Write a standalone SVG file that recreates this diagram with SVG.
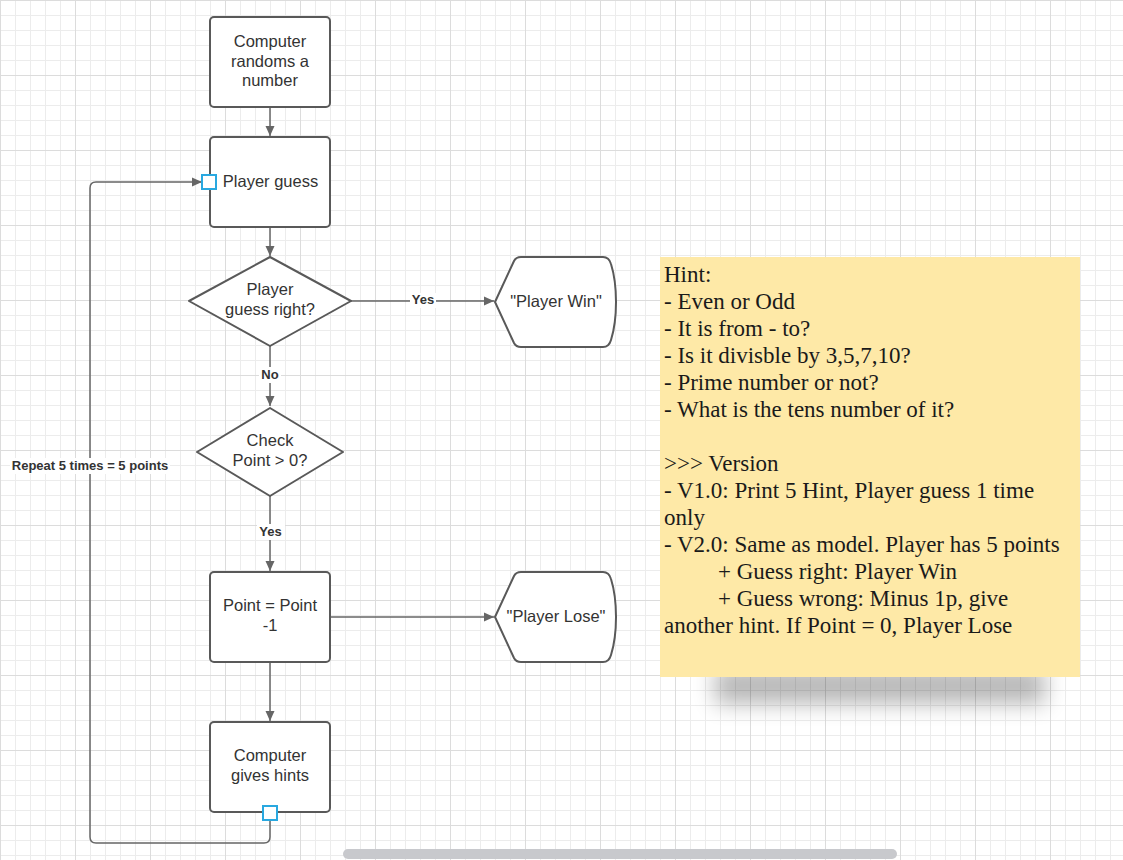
<svg xmlns="http://www.w3.org/2000/svg" width="1123" height="860" viewBox="0 0 1123 860">
<defs>
<pattern id="grid" x="0" y="0" width="75" height="75" patternUnits="userSpaceOnUse">
<path d="M15.5,0V75M30.5,0V75M45.5,0V75M60.5,0V75M0,15.5H75M0,30.5H75M0,45.5H75M0,60.5H75" stroke="#ececec" stroke-width="1" fill="none"/>
<path d="M0.5,0V75M0,0.5H75" stroke="#dcdcdc" stroke-width="1" fill="none"/>
</pattern>
<marker id="arr" viewBox="0 0 10 10" refX="10" refY="5" markerWidth="10" markerHeight="10" markerUnits="userSpaceOnUse" orient="auto">
<path d="M0,0.5L10,5L0,9.5Z" fill="#666"/>
</marker>
<filter id="blur" x="-30%" y="-100%" width="160%" height="300%">
<feGaussianBlur stdDeviation="11"/>
</filter>
</defs>
<style>
.node{fill:#fff;stroke:#595959;stroke-width:2}
.t{font-family:"Liberation Sans",Arial,sans-serif;font-size:16.5px;fill:#333;text-anchor:middle}
.lbl{font-family:"Liberation Sans",Arial,sans-serif;font-size:13px;font-weight:bold;fill:#333;text-anchor:middle}
.c{fill:none;stroke:#666;stroke-width:1.5}
.port{fill:#fff;stroke:#29a8e0;stroke-width:2}
.note{font-family:"Liberation Serif","Times New Roman",serif;font-size:23px;fill:#1a1a1a}
</style>
<rect width="1123" height="860" fill="#fff"/>
<rect width="1123" height="860" fill="url(#grid)"/>

<g id="connectors">
<path class="c" d="M270,107V136" marker-end="url(#arr)"/>
<path class="c" d="M270,227V256" marker-end="url(#arr)"/>
<path class="c" d="M351,301H494" marker-end="url(#arr)"/>
<path class="c" d="M270,346V406" marker-end="url(#arr)"/>
<path class="c" d="M270,496V571" marker-end="url(#arr)"/>
<path class="c" d="M330,617H494" marker-end="url(#arr)"/>
<path class="c" d="M270,662V721" marker-end="url(#arr)"/>
<path class="c" d="M270,820V837Q270,843 264,843H96Q90,843 90,837V188Q90,182 96,182H202" marker-end="url(#arr)"/>
<rect x="410" y="293" width="26" height="15" fill="#fff"/>
<text class="lbl" x="423" y="304">Yes</text>
<rect x="259" y="367" width="22" height="16" fill="#fff"/>
<text class="lbl" x="270" y="379">No</text>
<rect x="257" y="524" width="28" height="16" fill="#fff"/>
<text class="lbl" x="270.5" y="536">Yes</text>
<rect x="10" y="458" width="160" height="16" fill="#fff"/>
<text class="lbl" x="90" y="470">Repeat 5 times = 5 points</text>
</g>

<g id="n-random">
<rect class="node" x="210" y="17" width="120" height="90" rx="4"/>
<text class="t" x="270" y="47">Computer</text>
<text class="t" x="270" y="67">randoms a</text>
<text class="t" x="270" y="86">number</text>
</g>
<g id="n-guess">
<rect class="node" x="210" y="137" width="120" height="90" rx="4"/>
<text class="t" x="270.5" y="187">Player guess</text>
<rect class="port" x="202" y="175" width="14" height="14"/>
</g>
<g id="n-right">
<path class="node" d="M270,257L351,301L270,346L189,301Z" stroke-linejoin="round"/>
<text class="t" x="270" y="295">Player</text>
<text class="t" x="270" y="315">guess right?</text>
</g>
<g id="n-win">
<path class="node" d="M495,302L514,261Q516,257 521,257L603,257Q609,257 611,264Q616,280 616,302Q616,324 611,340Q609,347 603,347L521,347Q516,347 514,343Z"/>
<text class="t" x="556" y="307">"Player Win"</text>
</g>
<g id="n-check">
<path class="node" d="M270,408L343,452L270,496L197,452Z" stroke-linejoin="round"/>
<text class="t" x="270" y="446">Check</text>
<text class="t" x="270" y="466">Point &gt; 0?</text>
</g>
<g id="n-point">
<rect class="node" x="210" y="572" width="120" height="90" rx="4"/>
<text class="t" x="270" y="611">Point = Point</text>
<text class="t" x="270" y="631">-1</text>
</g>
<g id="n-lose">
<path class="node" d="M495,617L514,576Q516,572 521,572L603,572Q609,572 611,579Q616,595 616,617Q616,639 611,655Q609,662 603,662L521,662Q516,662 514,658Z"/>
<text class="t" x="556" y="622">"Player Lose"</text>
</g>
<g id="n-hints">
<rect class="node" x="210" y="722" width="120" height="90" rx="4"/>
<text class="t" x="270" y="761">Computer</text>
<text class="t" x="270" y="781">gives hints</text>
<rect class="port" x="263" y="806" width="14" height="14"/>
</g>

<g id="note">
<rect x="715" y="668" width="330" height="36" fill="#000" opacity="0.28" filter="url(#blur)"/>
<rect x="660" y="257" width="420" height="420" fill="#fee9a7"/>
<text class="note" x="664" y="282">Hint:</text>
<text class="note" x="664" y="309">- Even or Odd</text>
<text class="note" x="664" y="336">- It is from - to?</text>
<text class="note" x="664" y="363">- Is it divisble by 3,5,7,10?</text>
<text class="note" x="664" y="390">- Prime number or not?</text>
<text class="note" x="664" y="417">- What is the tens number of it?</text>
<text class="note" x="664" y="471">&gt;&gt;&gt;  Version</text>
<text class="note" x="664" y="498">- V1.0: Print 5 Hint, Player guess 1 time</text>
<text class="note" x="664" y="525">only</text>
<text class="note" x="664" y="552">- V2.0: Same as model. Player has 5 points</text>
<text class="note" x="718" y="579">+ Guess right: Player Win</text>
<text class="note" x="718" y="606">+ Guess wrong: Minus 1p, give</text>
<text class="note" x="664" y="633">another hint. If Point = 0, Player Lose</text>
</g>

<rect x="343" y="849" width="554" height="10" rx="5" fill="#c8c9cd"/>
</svg>
